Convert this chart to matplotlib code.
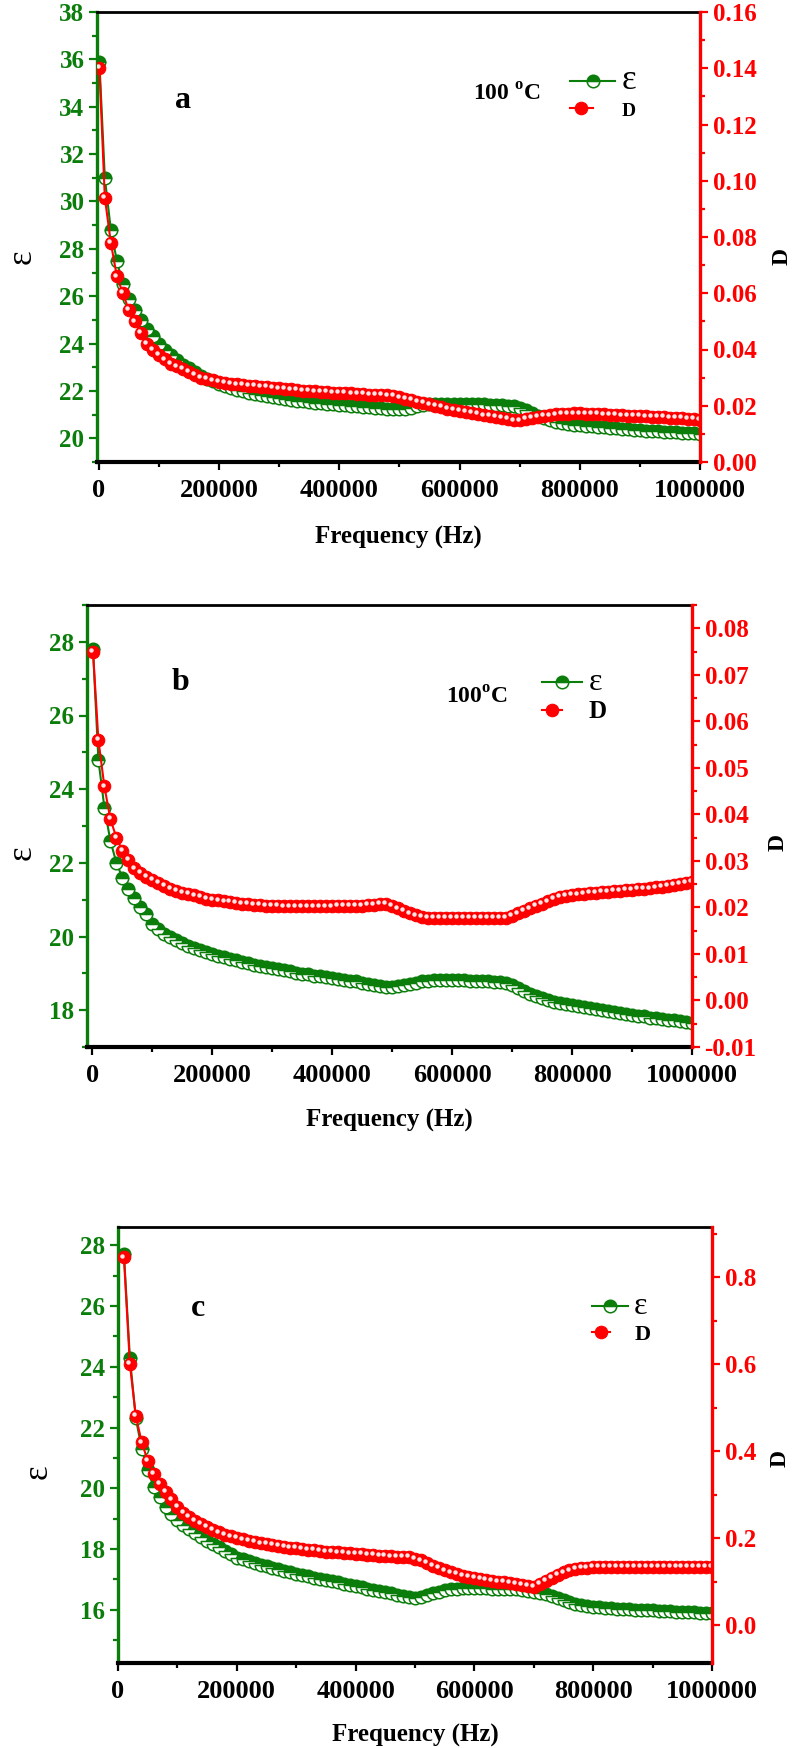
import matplotlib
matplotlib.use("Agg")
import matplotlib.pyplot as plt
from matplotlib.transforms import ScaledTranslation
from matplotlib.ticker import MultipleLocator, FormatStrFormatter
from matplotlib.legend_handler import HandlerTuple

plt.rcParams['font.family'] = ['Liberation Serif', 'DejaVu Serif']
plt.rcParams['font.weight'] = 'bold'
plt.rcParams['mathtext.fontset'] = 'custom'
plt.rcParams['mathtext.rm'] = 'Liberation Serif:bold'
plt.rcParams['mathtext.bf'] = 'Liberation Serif:bold'

GREEN = '#0b7d0b'
RED = '#ff0000'

# frequency sweep (Hz)
freq_ab = [1000] + [10000 * i for i in range(1, 101)]
freq_c = [10000 * i for i in range(1, 101)]

# panel a
eps_a = [35.9, 31.0, 28.8, 27.5, 26.5, 25.9, 25.4, 25.0, 24.6, 24.3,
         24.0, 23.75, 23.5, 23.3, 23.1, 22.95, 22.8, 22.65, 22.5, 22.4,
         22.3, 22.2, 22.12, 22.05, 21.98, 21.92, 21.87, 21.82, 21.77, 21.73,
         21.7, 21.66, 21.62, 21.59, 21.56, 21.53, 21.5, 21.48, 21.45, 21.43,
         21.41, 21.39, 21.37, 21.35, 21.33, 21.31, 21.29, 21.27, 21.25, 21.23,
         21.22, 21.25, 21.3, 21.35, 21.4, 21.43, 21.45, 21.46, 21.47, 21.47,
         21.47, 21.46, 21.45, 21.44, 21.43, 21.42, 21.41, 21.4, 21.38, 21.35,
         21.28, 21.18, 21.07, 20.96, 20.86, 20.77, 20.7, 20.64, 20.6, 20.57,
         20.55, 20.53, 20.51, 20.49, 20.47, 20.45, 20.43, 20.41, 20.39, 20.37,
         20.35, 20.33, 20.31, 20.3, 20.28, 20.27, 20.25, 20.24, 20.22, 20.21,
         20.2]
D_a = [0.140, 0.094, 0.078, 0.066, 0.060, 0.054, 0.050, 0.046, 0.042, 0.040,
       0.038, 0.0365, 0.035, 0.034, 0.033, 0.032, 0.031, 0.030, 0.0295, 0.029,
       0.0284, 0.028, 0.0278, 0.0276, 0.0274, 0.0272, 0.027, 0.0268, 0.0266, 0.0264,
       0.0262, 0.026, 0.0258, 0.0256, 0.0254, 0.0253, 0.0251, 0.025, 0.0249, 0.0247,
       0.0246, 0.0245, 0.0244, 0.0243, 0.0241, 0.024, 0.0239, 0.0238, 0.0237, 0.0234,
       0.0230, 0.0225, 0.022, 0.0215, 0.021, 0.0205, 0.020, 0.0195, 0.019, 0.0186,
       0.0182, 0.0178, 0.0174, 0.017, 0.0166, 0.0163, 0.016, 0.0156, 0.0152, 0.0148,
       0.0148, 0.0152, 0.0156, 0.016, 0.0163, 0.0166, 0.0169, 0.0171, 0.0172, 0.0173,
       0.0173, 0.0172, 0.0171, 0.017, 0.0169, 0.0168, 0.0167, 0.0166, 0.0165, 0.0164,
       0.0163, 0.0162, 0.0161, 0.016, 0.0159, 0.0158, 0.0157, 0.0156, 0.0154, 0.0152,
       0.015]

# panel b
eps_b = [27.8, 24.8, 23.5, 22.6, 22.0, 21.6, 21.3, 21.05, 20.8, 20.6,
         20.35, 20.2, 20.08, 19.98, 19.9, 19.82, 19.75, 19.69, 19.63, 19.58,
         19.53, 19.48, 19.43, 19.39, 19.35, 19.31, 19.27, 19.23, 19.2, 19.17,
         19.14, 19.11, 19.08, 19.05, 19.02, 18.99, 18.97, 18.94, 18.92, 18.9,
         18.88, 18.85, 18.83, 18.8, 18.78, 18.75, 18.72, 18.69, 18.66, 18.64,
         18.64, 18.66, 18.69, 18.72, 18.75, 18.78, 18.8, 18.82, 18.83, 18.83,
         18.83, 18.82, 18.81, 18.8, 18.8, 18.79, 18.78, 18.77, 18.76, 18.74,
         18.68, 18.6, 18.52, 18.45, 18.38, 18.32, 18.27, 18.23, 18.2, 18.17,
         18.15, 18.12, 18.09, 18.06, 18.03, 18.0, 17.98, 17.95, 17.93, 17.9,
         17.88, 17.85, 17.83, 17.8, 17.78, 17.76, 17.74, 17.72, 17.7, 17.68,
         17.66]
D_b = [0.075, 0.056, 0.046, 0.039, 0.035, 0.0322, 0.0302, 0.0284, 0.0274, 0.0266,
       0.0259, 0.0252, 0.0246, 0.024, 0.0236, 0.0232, 0.0229, 0.0226, 0.0222, 0.0219,
       0.0217, 0.0215, 0.0213, 0.0211, 0.0209, 0.0208, 0.0207, 0.0206, 0.0205, 0.0204,
       0.0203, 0.0203, 0.0202, 0.0202, 0.0202, 0.0202, 0.0202, 0.0202, 0.0202, 0.0202,
       0.0202, 0.0203, 0.0203, 0.0203, 0.0204, 0.0204, 0.0205, 0.0206, 0.0207, 0.0207,
       0.0203, 0.0198, 0.0192, 0.0187, 0.0183, 0.018, 0.0178, 0.0177, 0.0177, 0.0177,
       0.0177, 0.0177, 0.0177, 0.0177, 0.0177, 0.0177, 0.0177, 0.0177, 0.0177, 0.0178,
       0.0181, 0.0187, 0.0193, 0.0198, 0.0203, 0.0208, 0.0213, 0.0218, 0.0222, 0.0225,
       0.0227, 0.0228, 0.0229, 0.0231, 0.0232, 0.0233, 0.0234, 0.0235, 0.0236, 0.0237,
       0.0238, 0.0239, 0.024, 0.0241, 0.0243, 0.0244, 0.0246, 0.0248, 0.025, 0.0252,
       0.0254]

# panel c
eps_c = [27.7, 24.3, 22.3, 21.3, 20.6, 20.05, 19.7, 19.4, 19.15, 18.95,
         18.8, 18.65, 18.52, 18.4, 18.28, 18.17, 18.06, 17.95, 17.83, 17.72,
         17.66, 17.6, 17.54, 17.48, 17.43, 17.38, 17.33, 17.28, 17.23, 17.18,
         17.14, 17.1, 17.06, 17.02, 16.98, 16.94, 16.9, 16.86, 16.82, 16.78,
         16.74, 16.7, 16.66, 16.62, 16.58, 16.54, 16.5, 16.46, 16.42, 16.39,
         16.42, 16.48, 16.54, 16.6, 16.65, 16.68, 16.7, 16.71, 16.72, 16.72,
         16.72, 16.71, 16.7, 16.7, 16.69, 16.68, 16.67, 16.65, 16.63, 16.6,
         16.56, 16.51, 16.46, 16.4, 16.33, 16.26, 16.2, 16.15, 16.12, 16.1,
         16.08, 16.06, 16.05, 16.04, 16.03, 16.02, 16.01, 16.0, 15.99, 15.98,
         15.97, 15.96, 15.95, 15.94, 15.93, 15.93, 15.92, 15.91, 15.9, 15.9]
D_c = [0.845, 0.60, 0.48, 0.42, 0.378, 0.347, 0.324, 0.306, 0.289, 0.272,
       0.258, 0.248, 0.24, 0.232, 0.225, 0.219, 0.213, 0.208, 0.204, 0.200,
       0.197, 0.194, 0.191, 0.188, 0.186, 0.184, 0.182, 0.18, 0.178, 0.177,
       0.175, 0.173, 0.172, 0.17, 0.169, 0.168, 0.167, 0.166, 0.165, 0.164,
       0.163, 0.162, 0.161, 0.16, 0.159, 0.158, 0.157, 0.156, 0.156, 0.153,
       0.149, 0.143, 0.137, 0.131, 0.126, 0.121, 0.117, 0.113, 0.11, 0.108,
       0.106, 0.104, 0.102, 0.1, 0.099, 0.097, 0.095, 0.093, 0.09, 0.088,
       0.094, 0.101, 0.108, 0.115, 0.121, 0.126, 0.129, 0.131, 0.132, 0.133,
       0.133, 0.133, 0.133, 0.133, 0.133, 0.133, 0.133, 0.133, 0.134, 0.134,
       0.134, 0.134, 0.134, 0.134, 0.134, 0.134, 0.134, 0.134, 0.134, 0.134]

x_ticks = [0, 200000, 400000, 600000, 800000, 1000000]

fig = plt.figure(figsize=(7.92, 17.48), dpi=100)


def rect(left, top, right, bottom):
    return [left / 792, 1 - bottom / 1748, (right - left) / 792, (bottom - top) / 1748]


def panel(box, freq, eps, dis, xlim, e_lim, e_ticks, d_lim, d_ticks, d_minor, d_fmt,
          letter, letter_xy, temp, temp_xy, leg_xy, leg_sizes, hlen, eps_lab_xy, d_lab_xy):
    ax = fig.add_axes(rect(*box))
    ax2 = ax.twinx()

    ax.plot(freq, eps, '-', color=GREEN, lw=1.5, marker='o', ms=9, fillstyle='top',
            markerfacecolor=GREEN, markerfacecoloralt='white', markeredgecolor=GREEN,
            markeredgewidth=1.1)
    h_d, = ax2.plot(freq, dis, '-', color=RED, lw=1.5, marker='o', ms=9,
                    markerfacecolor=RED, markeredgecolor=RED, markeredgewidth=0.8)
    shift = ax2.transData + ScaledTranslation(-1.3 / 72, 1.3 / 72, fig.dpi_scale_trans)
    h_hl, = ax2.plot(freq, dis, ls='none', marker='o', ms=3.2, markerfacecolor='white',
                     markeredgecolor='none', alpha=0.9, transform=shift)
    h_e = ax.lines[0]

    ax.set_xlim(*xlim)
    ax.set_ylim(*e_lim)
    ax2.set_ylim(*d_lim)
    ax.set_xticks(x_ticks)
    ax.xaxis.set_minor_locator(MultipleLocator(100000))
    ax.xaxis.set_major_formatter(FormatStrFormatter('%d'))
    ax.set_yticks(e_ticks)
    ax.yaxis.set_minor_locator(MultipleLocator(1))
    ax2.set_yticks(d_ticks)
    ax2.yaxis.set_minor_locator(MultipleLocator(d_minor))
    ax2.yaxis.set_major_formatter(FormatStrFormatter(d_fmt))

    ax.spines['right'].set_visible(False)
    ax.spines['left'].set_color(GREEN)
    ax.spines['left'].set_linewidth(2.4)
    ax.spines['top'].set_linewidth(2)
    ax.spines['bottom'].set_linewidth(3)
    for s in ['left', 'top', 'bottom']:
        ax2.spines[s].set_visible(False)
    ax2.spines['right'].set_color(RED)
    ax2.spines['right'].set_linewidth(2.4)

    ax.tick_params(axis='y', which='both', colors=GREEN, direction='out', width=1.6,
                   labelsize=18, pad=3)
    ax.tick_params(axis='y', which='major', length=6)
    ax.tick_params(axis='y', which='minor', length=3.5)
    ax2.tick_params(axis='y', which='both', colors=RED, direction='out', width=1.6,
                    labelsize=18, pad=3)
    ax2.tick_params(axis='y', which='major', length=6)
    ax2.tick_params(axis='y', which='minor', length=3.5)
    ax.tick_params(axis='x', which='both', colors='black', direction='out', width=1.6,
                   labelsize=19, pad=6)
    ax.tick_params(axis='x', which='major', length=6)
    ax.tick_params(axis='x', which='minor', length=3.5)

    ax.text(letter_xy[0], letter_xy[1], letter, transform=ax.transAxes, fontsize=23,
            fontweight='bold', ha='center', va='center')
    if temp:
        ax.text(temp_xy[0], temp_xy[1], temp, transform=ax.transAxes, fontsize=17,
                fontweight='bold', ha='center', va='center')
    ax.text(0.5, -0.167, 'Frequency (Hz)', transform=ax.transAxes, fontsize=18,
            fontweight='bold', ha='center', va='center')
    ax.text(eps_lab_xy[0], eps_lab_xy[1], 'ε', transform=ax.transAxes, fontsize=25,
            fontweight='normal', rotation=90, ha='center', va='center')
    ax.text(d_lab_xy[0], d_lab_xy[1], 'D', transform=ax.transAxes, fontsize=17,
            fontweight='bold', rotation=90, ha='center', va='center')

    leg = ax2.legend([h_e, (h_d, h_hl)], ['ε', 'D'], loc='center left',
                     bbox_to_anchor=leg_xy, frameon=False, handlelength=hlen,
                     handletextpad=0.3, labelspacing=0.15, borderpad=0,
                     borderaxespad=0, prop={'size': 16, 'weight': 'bold'},
                     handler_map={tuple: HandlerTuple(ndivide=None)})
    leg.get_texts()[0].set_fontsize(leg_sizes[0])
    leg.get_texts()[0].set_fontweight('normal')
    leg.get_texts()[1].set_fontsize(leg_sizes[1])


panel((97, 12, 700, 462), freq_ab, eps_a, D_a, (-3000, 1000000), (19, 38),
      list(range(20, 39, 2)), (0, 0.16), [0.02 * i for i in range(9)], 0.01, '%.2f',
      'a', (0.143, 0.804), '100 $^{\\mathrm{o}}$C', (0.68, 0.816),
      (0.785, 0.822), (25, 14), 2.0, (-0.125, 0.456), (1.136, 0.456))

panel((87, 605, 692, 1047), freq_ab, eps_b, D_b, (-9000, 1000000), (17, 29),
      list(range(18, 29, 2)), (-0.01, 0.085), [0.01 * i for i in range(-1, 9)], 0.005, '%.2f',
      'b', (0.154, 0.824), '100$^{\\mathrm{o}}$C', (0.645, 0.79),
      (0.752, 0.795), (23, 18), 1.8, (-0.108, 0.439), (1.142, 0.462))

panel((118, 1227, 712, 1663), freq_c, eps_c, D_c, (0, 1000000), (14.25, 28.6),
      list(range(16, 29, 2)), (-0.087, 0.915), [0.2 * i for i in range(5)], 0.1, '%.1f',
      'c', (0.135, 0.814), None, None,
      (0.798, 0.79), (23, 16), 1.6, (-0.135, 0.438), (1.114, 0.47))

fig.savefig('out.png', dpi=100)
